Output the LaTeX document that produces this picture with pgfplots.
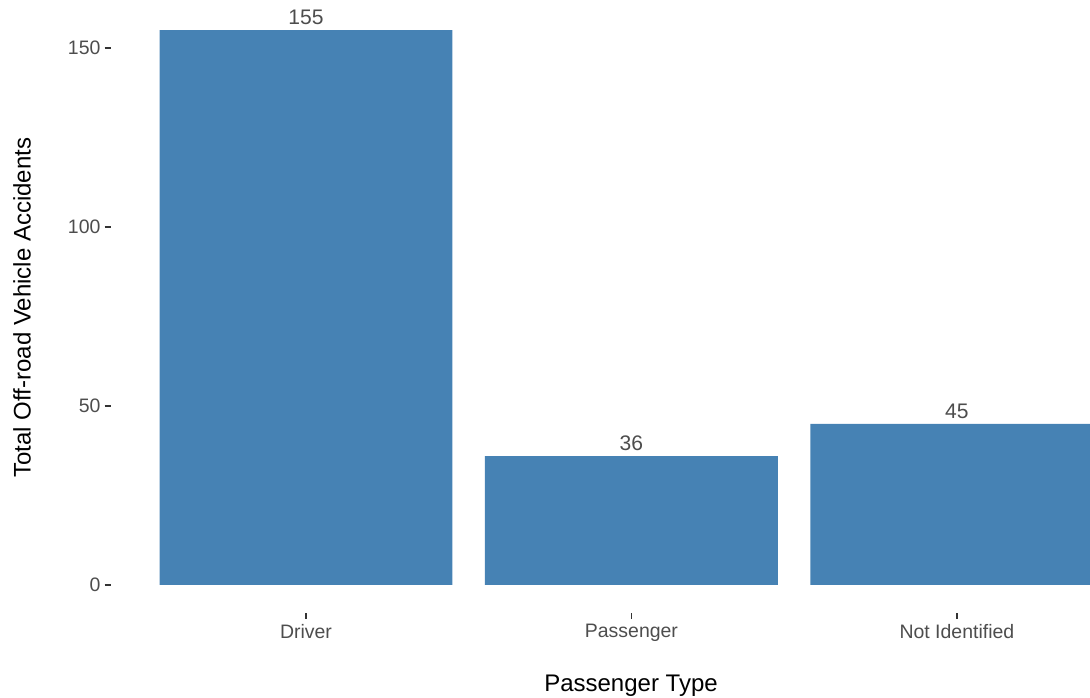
\documentclass[border=0pt]{standalone}
\usepackage{pgfplots}
\pgfplotsset{compat=1.18}
\usepackage{fontspec}
\setmainfont{Liberation Sans}
\definecolor{barblue}{HTML}{4682B4}
\definecolor{ticklab}{HTML}{4D4D4D}
\definecolor{tickcol}{HTML}{333333}
\begin{document}
\begin{tikzpicture}
\useasboundingbox (0pt,0pt) rectangle (817.5pt,522.75pt);
\begin{axis}[
  at={(83.025pt,63.225pt)}, anchor=south west,
  scale only axis,
  width=734.475pt, height=457.725pt,
  xmin=0.4, xmax=3.409,
  ymin=-7.75, ymax=162.75,
  axis x line*=bottom, axis y line*=left,
  axis line style={draw=none},
  xtick={1,2,3},
  xticklabels={Driver,Passenger,Not Identified},
  ytick={0,50,100,150},
  tick align=outside,
  major tick length=4.5pt,
  tick style={color=tickcol, line width=1.3pt},
  /pgf/number format/assume math mode=true,
  ticklabel style={font=\fontsize{14.6}{16}\selectfont, text=ticklab},
  xticklabel style={inner sep=0pt, yshift=-3.7pt},
  yticklabel style={inner sep=0pt, xshift=-3pt},
  clip=true,
  ybar, bar width=0.9,
  nodes near coords,
  nodes near coords style={font=\fontsize{15.8}{17}\selectfont, text=ticklab, inner sep=0pt, anchor=south, yshift=3.5pt},
]
\addplot[fill=barblue, draw=none] coordinates {(1,155) (2,36) (3,45)};
\end{axis}
\node[rotate=90, font=\fontsize{18}{20}\selectfont, text=black] at (16.5pt,292.1pt) {Total Off-road Vehicle Accidents};
\node[font=\fontsize{18}{20}\selectfont, text=black] at (473.25pt,8.3pt) {Passenger Type};
\end{tikzpicture}
\end{document}
